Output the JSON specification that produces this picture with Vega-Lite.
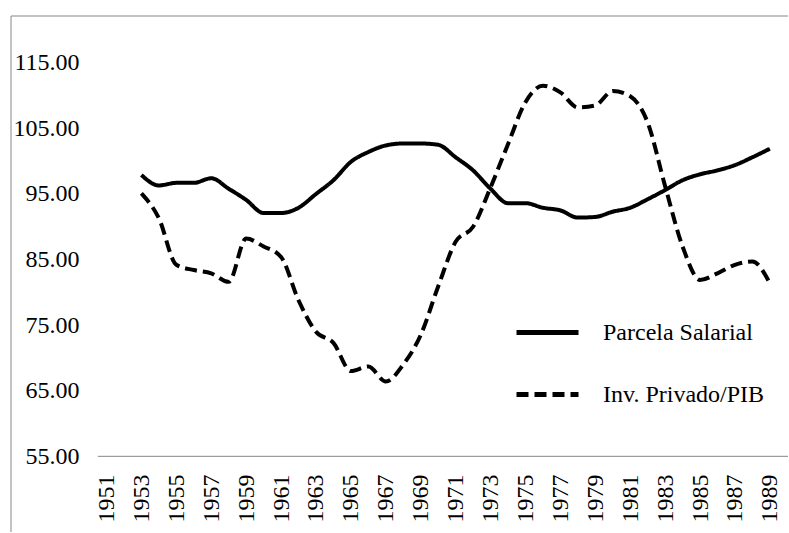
{
  "$schema": "https://vega.github.io/schema/vega-lite/v6.json",
  "width": 789,
  "height": 533,
  "autosize": {"type": "fit", "contains": "padding"},
  "padding": {"left": 10, "top": 15, "right": 0, "bottom": 0},
  "background": "white",
  "config": {"view": {"stroke": null}, "font": "Liberation Serif"},
  "layer": [
    {
      "data": {"values": [{}]},
      "mark": {"type": "rule", "color": "#868686", "strokeWidth": 1},
      "encoding": {
        "x": {"datum": 1950.5, "type": "quantitative"},
        "x2": {"datum": 1990.04},
        "y": {"datum": 55, "type": "quantitative"}
      }
    },
    {
      "data": {"values": [{}]},
      "mark": {"type": "rule", "color": "#868686", "strokeWidth": 1},
      "encoding": {
        "x": {"datum": 1945.53, "type": "quantitative"},
        "y": {"datum": 43.46, "type": "quantitative"},
        "y2": {"datum": 122.14}
      }
    },
    {
      "data": {"values": [{}]},
      "mark": {"type": "rule", "color": "#868686", "strokeWidth": 1},
      "encoding": {
        "x": {"datum": 1945.53, "type": "quantitative"},
        "x2": {"datum": 1990.04},
        "y": {"datum": 122.14, "type": "quantitative"}
      }
    },
    {
      "data": {"values": [
        {"year": 1953, "series": "Parcela Salarial", "value": 97.9},
        {"year": 1954, "series": "Parcela Salarial", "value": 96.3},
        {"year": 1955, "series": "Parcela Salarial", "value": 96.7},
        {"year": 1956, "series": "Parcela Salarial", "value": 96.7},
        {"year": 1957, "series": "Parcela Salarial", "value": 97.4},
        {"year": 1958, "series": "Parcela Salarial", "value": 95.8},
        {"year": 1959, "series": "Parcela Salarial", "value": 94.1},
        {"year": 1960, "series": "Parcela Salarial", "value": 92.1},
        {"year": 1961, "series": "Parcela Salarial", "value": 92.1},
        {"year": 1962, "series": "Parcela Salarial", "value": 92.9},
        {"year": 1963, "series": "Parcela Salarial", "value": 95.0},
        {"year": 1964, "series": "Parcela Salarial", "value": 97.1},
        {"year": 1965, "series": "Parcela Salarial", "value": 99.9},
        {"year": 1966, "series": "Parcela Salarial", "value": 101.4},
        {"year": 1967, "series": "Parcela Salarial", "value": 102.4},
        {"year": 1968, "series": "Parcela Salarial", "value": 102.7},
        {"year": 1969, "series": "Parcela Salarial", "value": 102.7},
        {"year": 1970, "series": "Parcela Salarial", "value": 102.5},
        {"year": 1971, "series": "Parcela Salarial", "value": 100.6},
        {"year": 1972, "series": "Parcela Salarial", "value": 98.6},
        {"year": 1973, "series": "Parcela Salarial", "value": 95.8},
        {"year": 1974, "series": "Parcela Salarial", "value": 93.6},
        {"year": 1975, "series": "Parcela Salarial", "value": 93.6},
        {"year": 1976, "series": "Parcela Salarial", "value": 92.9},
        {"year": 1977, "series": "Parcela Salarial", "value": 92.5},
        {"year": 1978, "series": "Parcela Salarial", "value": 91.4},
        {"year": 1979, "series": "Parcela Salarial", "value": 91.5},
        {"year": 1980, "series": "Parcela Salarial", "value": 92.3},
        {"year": 1981, "series": "Parcela Salarial", "value": 92.9},
        {"year": 1982, "series": "Parcela Salarial", "value": 94.2},
        {"year": 1983, "series": "Parcela Salarial", "value": 95.6},
        {"year": 1984, "series": "Parcela Salarial", "value": 97.1},
        {"year": 1985, "series": "Parcela Salarial", "value": 98.0},
        {"year": 1986, "series": "Parcela Salarial", "value": 98.6},
        {"year": 1987, "series": "Parcela Salarial", "value": 99.4},
        {"year": 1988, "series": "Parcela Salarial", "value": 100.6},
        {"year": 1989, "series": "Parcela Salarial", "value": 101.9},
        {"year": 1953, "series": "Inv. Privado/PIB", "value": 95.1},
        {"year": 1954, "series": "Inv. Privado/PIB", "value": 91.3},
        {"year": 1955, "series": "Inv. Privado/PIB", "value": 84.2},
        {"year": 1956, "series": "Inv. Privado/PIB", "value": 83.4},
        {"year": 1957, "series": "Inv. Privado/PIB", "value": 82.9},
        {"year": 1958, "series": "Inv. Privado/PIB", "value": 81.6},
        {"year": 1959, "series": "Inv. Privado/PIB", "value": 88.2},
        {"year": 1960, "series": "Inv. Privado/PIB", "value": 87.0},
        {"year": 1961, "series": "Inv. Privado/PIB", "value": 85.4},
        {"year": 1962, "series": "Inv. Privado/PIB", "value": 78.8},
        {"year": 1963, "series": "Inv. Privado/PIB", "value": 74.0},
        {"year": 1964, "series": "Inv. Privado/PIB", "value": 72.3},
        {"year": 1965, "series": "Inv. Privado/PIB", "value": 68.0},
        {"year": 1966, "series": "Inv. Privado/PIB", "value": 68.7},
        {"year": 1967, "series": "Inv. Privado/PIB", "value": 66.4},
        {"year": 1968, "series": "Inv. Privado/PIB", "value": 69.0},
        {"year": 1969, "series": "Inv. Privado/PIB", "value": 73.5},
        {"year": 1970, "series": "Inv. Privado/PIB", "value": 80.9},
        {"year": 1971, "series": "Inv. Privado/PIB", "value": 87.7},
        {"year": 1972, "series": "Inv. Privado/PIB", "value": 90.0},
        {"year": 1973, "series": "Inv. Privado/PIB", "value": 96.0},
        {"year": 1974, "series": "Inv. Privado/PIB", "value": 102.6},
        {"year": 1975, "series": "Inv. Privado/PIB", "value": 109.0},
        {"year": 1976, "series": "Inv. Privado/PIB", "value": 111.5},
        {"year": 1977, "series": "Inv. Privado/PIB", "value": 110.5},
        {"year": 1978, "series": "Inv. Privado/PIB", "value": 108.2},
        {"year": 1979, "series": "Inv. Privado/PIB", "value": 108.5},
        {"year": 1980, "series": "Inv. Privado/PIB", "value": 110.7},
        {"year": 1981, "series": "Inv. Privado/PIB", "value": 109.9},
        {"year": 1982, "series": "Inv. Privado/PIB", "value": 105.9},
        {"year": 1983, "series": "Inv. Privado/PIB", "value": 96.2},
        {"year": 1984, "series": "Inv. Privado/PIB", "value": 87.0},
        {"year": 1985, "series": "Inv. Privado/PIB", "value": 81.9},
        {"year": 1986, "series": "Inv. Privado/PIB", "value": 82.9},
        {"year": 1987, "series": "Inv. Privado/PIB", "value": 84.2},
        {"year": 1988, "series": "Inv. Privado/PIB", "value": 84.7},
        {"year": 1989, "series": "Inv. Privado/PIB", "value": 81.4}
      ]},
      "mark": {"type": "line", "color": "black", "strokeWidth": 4, "interpolate": "monotone"},
      "encoding": {
        "x": {
          "field": "year", "type": "quantitative",
          "scale": {"domain": [1945.53, 1990.04], "nice": false, "zero": false},
          "axis": {
            "values": [1951, 1953, 1955, 1957, 1959, 1961, 1963, 1965, 1967, 1969, 1971, 1973, 1975, 1977, 1979, 1981, 1983, 1985, 1987, 1989],
            "format": "d", "labelAngle": 270, "title": null, "domain": false, "ticks": false, "grid": false,
            "offset": -76, "labelPadding": 18, "labelFontSize": 24, "labelColor": "black",
            "labelFont": "Liberation Serif", "labelOverlap": false, "labelFlush": false
          }
        },
        "y": {
          "field": "value", "type": "quantitative",
          "scale": {"domain": [43.46, 122.14], "nice": false, "zero": false},
          "axis": {
            "values": [55, 65, 75, 85, 95, 105, 115],
            "format": ".2f", "title": null, "domain": false, "ticks": false, "grid": false,
            "offset": -87, "labelPadding": 19, "labelFontSize": 24, "labelColor": "black",
            "labelFont": "Liberation Serif"
          }
        },
        "strokeDash": {
          "field": "series", "type": "nominal",
          "scale": {"domain": ["Parcela Salarial", "Inv. Privado/PIB"], "range": [[1, 0], [12, 6]]},
          "legend": {
            "orient": "none", "legendX": 503, "legendY": 283, "title": null,
            "symbolType": "stroke", "symbolSize": 3844, "symbolStrokeWidth": 5, "symbolStrokeColor": "black",
            "labelFontSize": 24, "labelFont": "Liberation Serif", "labelColor": "black",
            "labelOffset": 22, "rowPadding": 16, "padding": 0, "labelLimit": 300
          }
        }
      }
    }
  ]
}
